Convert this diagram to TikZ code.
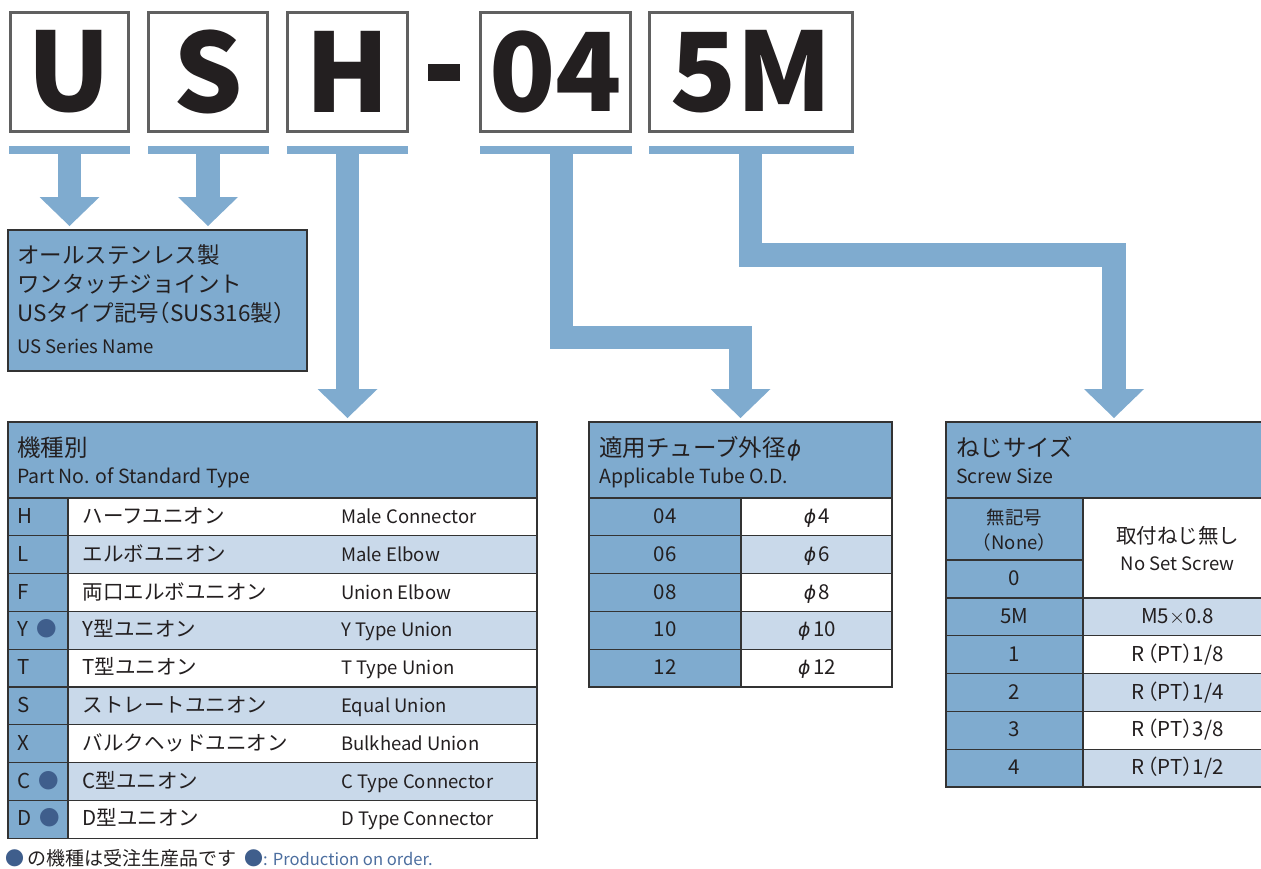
\documentclass[tikz,border=0pt]{standalone}
\usepackage{fontspec}
\setmainfont{Noto Sans CJK JP}[RawFeature=+halt]
\newfontfamily\phifont{DejaVu Sans}[FakeSlant=0.18, Scale=0.92]
\usetikzlibrary{arrows.meta, positioning}
\definecolor{midblue}{HTML}{7FABCF}
\definecolor{paleblue}{HTML}{C9D9EA}
\definecolor{dotblue}{HTML}{3F5E8C}
\definecolor{noteblue}{HTML}{4C6E9F}
\definecolor{ink}{HTML}{231F20}
\definecolor{rulegray}{HTML}{333333}
\definecolor{boxgray}{HTML}{606060}
\newcommand{\ordermark}{\textcolor{dotblue}{●}}
\newcommand{\dia}{{\phifont ϕ}}
\tikzset{
    codebox/.style={draw=boxgray, line width=3pt, fill=white, minimum height=119pt, text=ink, inner sep=0pt, font=\bfseries\fontsize{109}{109}\selectfont},
    bar/.style={fill=midblue, minimum height=8pt, inner sep=0pt, outer sep=0pt},
    conn/.style={draw=midblue, line width=23.5pt, -{Triangle[width=60pt, length=29pt, line width=0pt]}, shorten >=4pt},
    cell/.style={draw=rulegray, line width=1.2pt, anchor=north west, inner sep=0pt, outer sep=0pt},
    hdcell/.style={cell, fill=midblue, minimum height=76pt},
    hdjp/.style={anchor=base west, text=ink, inner sep=0pt, font=\fontsize{23.5}{28}\selectfont},
    hden/.style={anchor=base west, text=ink, inner sep=0pt, font=\fontsize{19.5}{23}\selectfont},
    bodytext/.style={anchor=base, text=ink, inner sep=0pt, font=\fontsize{20.5}{24}\selectfont},
    smalltext/.style={anchor=base, text=ink, inner sep=0pt, font=\fontsize{18.5}{22}\selectfont}
}
\begin{document}
\begin{tikzpicture}[x=1pt, y=-1pt]
    \useasboundingbox (0,0) rectangle (1261,868);
    % part number boxes
    \node [codebox, minimum width=118pt] (U) at (69.5,72) {U};
    \node [codebox, minimum width=119pt, right=17pt of U] (S) {S};
    \node [codebox, minimum width=120pt, right=17pt of S] (H) {H};
    \node [fill=ink, minimum width=32pt, minimum height=17pt, inner sep=0pt, right=19pt of H] (dash) {};
    \node [codebox, minimum width=150pt, right=19pt of dash] (tube) {04};
    \node [codebox, minimum width=203pt, right=16pt of tube] (screw) {5M};
    \node [bar, minimum width=121pt, below=13pt of U] (barU) {};
    \node [bar, minimum width=121pt, below=13pt of S] (barS) {};
    \node [bar, minimum width=121pt, below=13pt of H] (barH) {};
    \node [bar, minimum width=152pt, below=13pt of tube] (bar04) {};
    \node [bar, minimum width=205pt, below=13pt of screw] (bar5M) {};

    % series name
    \node [cell, fill=midblue, minimum width=299pt, minimum height=141pt] (series) at (8,230) {};
    \node [hdjp, font=\fontsize{22.5}{27}\selectfont] (seriesjp1) at (17,263.5) {オールステンレス製};
    \node [hdjp, font=\fontsize{22.5}{27}\selectfont] (seriesjp2) at (17,292.5) {ワンタッチジョイント};
    \node [hdjp, font=\fontsize{22.5}{27}\selectfont] (seriesjp3) at (17,321) {USタイプ記号（SUS316製）};
    \node [hden, font=\fontsize{18.6}{22}\selectfont] (seriesen) at (17,353) {US Series Name};

    % standard type
    \node [hdcell, minimum width=529pt] (typehd) at (8,422) {};
    \node [hdjp] (typejp) at (17,456) {機種別};
    \node [hden] (typeen) at (17,483) {Part No. of Standard Type};
    \foreach \code/\jp/\en/\shade [count=\i from 0] in {
        H/ハーフユニオン/Male Connector/white,
        L/エルボユニオン/Male Elbow/paleblue,
        F/両口エルボユニオン/Union Elbow/white,
        {Y\hspace{8pt}\ordermark}/Y型ユニオン/Y Type Union/paleblue,
        T/T型ユニオン/T Type Union/white,
        S/ストレートユニオン/Equal Union/paleblue,
        X/バルクヘッドユニオン/Bulkhead Union/white,
        {C\hspace{8pt}\ordermark}/C型ユニオン/C Type Connector/paleblue,
        {D\hspace{8pt}\ordermark}/D型ユニオン/D Type Connector/white}
    {
        \node [cell, fill=midblue, minimum width=60pt, minimum height=37.8pt] (typecode\i) at (8,{498+37.8*\i}) {};
        \node [cell, fill=\shade, minimum width=469pt, minimum height=37.8pt] (typename\i) at (68,{498+37.8*\i}) {};
        \node [bodytext, anchor=base west] (typecodetxt\i) at (17,{523.5+37.8*\i}) {\code};
        \node [bodytext, anchor=base west] (typejptxt\i) at (82.5,{523.5+37.8*\i}) {\jp};
        \node [smalltext, anchor=base west] (typeentxt\i) at (341,{523.5+37.8*\i}) {\en};
    }

    % tube size
    \node [hdcell, minimum width=303pt] (tubehd) at (589,422) {};
    \node [hdjp] (tubejp) at (599,456) {適用チューブ外径\dia};
    \node [hden] (tubeen) at (599,483) {Applicable Tube O.D.};
    \foreach \code/\size/\shade [count=\i from 0] in {04/4/white, 06/6/paleblue, 08/8/white, 10/10/paleblue, 12/12/white}
    {
        \node [cell, fill=midblue, minimum width=152pt, minimum height=37.8pt] (tubecode\i) at (589,{498+37.8*\i}) {};
        \node [cell, fill=\shade, minimum width=151pt, minimum height=37.8pt] (tubesize\i) at (741,{498+37.8*\i}) {};
        \node [bodytext] (tubecodetxt\i) at (665,{523.5+37.8*\i}) {\code};
        \node [bodytext] (tubesizetxt\i) at (816.5,{523.5+37.8*\i}) {\dia\,\size};
    }

    % screw size
    \node [hdcell, minimum width=326pt] (screwhd) at (946,422) {};
    \node [hdjp] (screwjp) at (956,456) {ねじサイズ};
    \node [hden] (screwen) at (956,483) {Screw Size};
    \node [cell, fill=midblue, minimum width=137pt, minimum height=62pt] (screwnone) at (946,498) {};
    \node [cell, fill=midblue, minimum width=137pt, minimum height=38pt] (screwzero) at (946,560) {};
    \node [cell, fill=white, minimum width=189pt, minimum height=100pt] (screwnoset) at (1083,498) {};
    \node [smalltext] (screwnonejp) at (1014.5,524) {無記号};
    \node [smalltext] (screwnoneen) at (1014.5,549) {（None）};
    \node [bodytext] (screwzerotxt) at (1014.5,585.5) {0};
    \node [bodytext] (screwnosetjp) at (1177.5,543.5) {取付ねじ無し};
    \node [smalltext] (screwnoseten) at (1177.5,570) {No Set Screw};
    \foreach \code/\thread/\shade [count=\i from 0] in {5M/{M5$\times$0.8}/paleblue, 1/{R\,（PT）1/8}/white, 2/{R\,（PT）1/4}/paleblue, 3/{R\,（PT）3/8}/white, 4/{R\,（PT）1/2}/paleblue}
    {
        \node [cell, fill=midblue, minimum width=137pt, minimum height=37.8pt] (screwcode\i) at (946,{598+37.8*\i}) {};
        \node [cell, fill=\shade, minimum width=189pt, minimum height=37.8pt] (screwthread\i) at (1083,{598+37.8*\i}) {};
        \node [bodytext] (screwcodetxt\i) at (1014.5,{623.5+37.8*\i}) {\code};
        \node [bodytext] (screwthreadtxt\i) at (1177.5,{623.5+37.8*\i}) {\thread};
    }

    % connectors
    \draw [conn] (barU.south) -- (barU.south |- series.north);
    \draw [conn] (barS.south) -- (barS.south |- series.north);
    \draw [conn] (barH.south) -- (barH.south |- typehd.north);
    \draw [conn] ([xshift=5.5pt]bar04.south) -- ++(0,183.5) -| (tubehd.north);
    \draw [conn] ([xshift=-1pt]bar5M.south) -- ++(0,101) -| ([xshift=5pt]screwhd.north);

    % note
    \node [anchor=base west, text=ink, inner sep=0pt, font=\fontsize{19}{22}\selectfont] (note) at (5,865)
        {\ordermark\hspace{3pt}の機種は受注生産品です\hspace{8pt}\ordermark\textcolor{noteblue}{\fontsize{16.6}{20}\selectfont: Production on order.}};
\end{tikzpicture}
\end{document}
